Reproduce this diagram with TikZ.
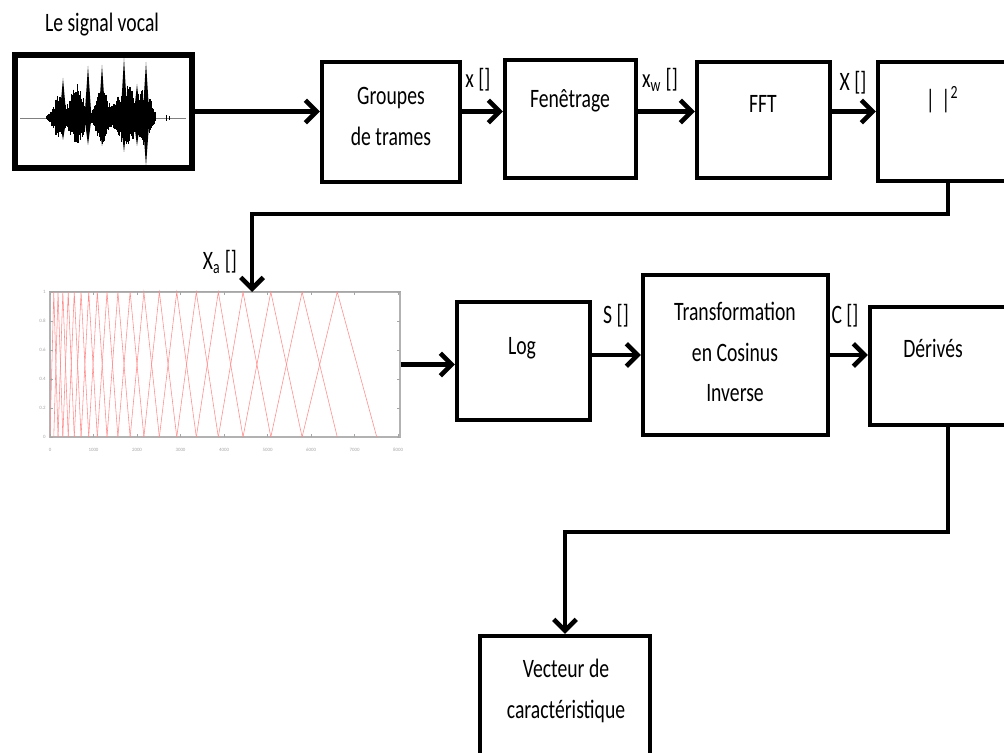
\documentclass[tikz,border=0pt]{standalone}
\usepackage{fontspec}
\setmainfont{Carlito}
\usepackage{graphicx}
\usetikzlibrary{arrows.meta,positioning}
\tikzstyle{bloc} = [rectangle, draw=black, line width=3pt, fill=white, inner sep=0pt]
\tikzstyle{fleche} = [line width=3.3pt, -{Straight Barb[length=8pt,width=16pt]}]
\tikzstyle{txt} = [inner sep=0pt, align=center, font=\fontsize{14}{29}\selectfont]
\tikzstyle{lbl} = [inner sep=0pt, font=\fontsize{14}{16}\selectfont]
\tikzstyle{tick} = [inner sep=0pt, text=gray!70, font=\fontsize{3.5}{4}\selectfont]
\newcommand{\haut}[1]{\scalebox{1}[1.35]{#1}}

\begin{document}
\begin{tikzpicture}[x=0.025cm, y=-0.025cm,
  declare function={bump(\x,\c,\w)=exp(-min(9,((\x-\c)/\w)*((\x-\c)/\w)));}]
\clip (0,0) rectangle (1004,753);
% Signal d'entree
\node[lbl] (titre) at (102,25) {\haut{Le signal vocal}};
\node (sig) [bloc, line width=3.8pt, minimum width=4.425cm, minimum height=2.825cm] at (103.5,111.5) {};
\draw[gray, line width=0.5pt] (20,118) -- (186,118);
\pgfmathsetseed{42}
\foreach \i in {0,...,240}{
  \pgfmathsetmacro{\wx}{47+\i*0.45}
  \pgfmathsetmacro{\env}{22*bump(\wx,58,6)+32*bump(\wx,77,9)+30*bump(\wx,102,7)+34*bump(\wx,126,11)+30*bump(\wx,145,7)+2}
  \pgfmathsetmacro{\wt}{118-\env*(0.5+0.5*rnd)}
  \pgfmathsetmacro{\wb}{118+0.8*\env*(0.5+0.5*rnd)}
  \draw[line width=0.8pt] (\wx,\wt) -- (\wx,\wb);
}
\foreach \sx/\st/\sb in {63/78/140, 88/66/145, 102/65/146, 124/58/152, 137/84/146, 146/62/166}
  \fill (\sx-3.5,118) -- (\sx,\st) -- (\sx+3.5,118) -- (\sx,\sb) -- cycle;
\draw[line width=0.6pt] (166,115) -- (166,121) (169,116) -- (169,120);

% Premiere ligne
\node (grp) [bloc, minimum width=3.45cm, minimum height=3cm] at (391,122) {};
\node (grptxt) [txt] at (391,116.5) {\haut{Groupes}\\\haut{de trames}};
\node (fen) [bloc, minimum width=3.275cm, minimum height=2.95cm] at (570.5,119) {};
\node (fentxt) [txt] at (570,101) {\haut{Fenêtrage}};
\node (fft) [bloc, minimum width=3.325cm, minimum height=2.9cm] at (763.5,120) {};
\node (ffttxt) [txt] at (763,104) {\haut{FFT}};
\node (mod) [bloc, minimum width=3.5cm, minimum height=2.975cm] at (948,121.5) {};
\node (modtxt) [txt] at (942,100) {\haut{|\,\,|\textsuperscript{2}}};

\node (lx) [lbl] at (478,80) {\haut{x []}};
\node (lxw) [lbl] at (660,80) {\haut{x$_{\mathrm{w}}$ []}};
\node (lX) [lbl] at (853,83) {\haut{X []}};

\draw[fleche] (sig.east) -- (sig.east -| grp.west);
\draw[fleche] (grp.east |- sig.east) -- (fen.west |- sig.east);
\draw[fleche] (fen.east |- sig.east) -- (fft.west |- sig.east);
\draw[fleche] (fft.east |- sig.east) -- (mod.west |- sig.east);

% Banc de filtres
\node (fb) [rectangle, draw=gray!60, line width=0.8pt, minimum width=8.75cm, minimum height=3.625cm, inner sep=0pt] at (225,364.5) {};
\draw[gray!70, line width=1.2pt] (fb.north west) -- (fb.north east);
\foreach \k in {1,...,20}{
  \pgfmathsetmacro{\fl}{50+0.0435*700*(pow(10,(\k-1)*132.14/2595)-1)}
  \pgfmathsetmacro{\fc}{50+0.0435*700*(pow(10,\k*132.14/2595)-1)}
  \pgfmathsetmacro{\fr}{50+0.0435*700*(pow(10,(\k+1)*132.14/2595)-1)}
  \draw[red!45, line width=0.4pt] (\fl,437) -- (\fc,292) -- (\fr,437);
}
\foreach \i in {0,...,8}{
  \draw[gray!70, line width=0.4pt] (50+\i*43.5,437) -- ++(0,-3) (50+\i*43.5,292) -- ++(0,3);
  \pgfmathtruncatemacro{\hz}{\i*1000}
  \node[tick] at (50+\i*43.5,450) {\hz};
}
\foreach \j/\v in {0/0, 1/0.2, 2/0.4, 3/0.6, 4/0.8, 5/1}{
  \draw[gray!70, line width=0.4pt] (50,437-\j*29) -- ++(3,0) (400,437-\j*29) -- ++(-3,0);
  \node[tick, anchor=east] at (46,437-\j*29) {\v};
}
\coordinate (fbin) at (252,292);
\node (lXa) [lbl] at (220,262) {\haut{X$_{\mathrm{a}}$ []}};
\draw[fleche] (mod.south) -- ++(0,31) -| (fbin);

% Deuxieme ligne
\node (log) [bloc, minimum width=3.325cm, minimum height=2.95cm] at (523.5,361) {};
\node (logtxt) [txt] at (522,348) {\haut{Log}};
\node (dct) [bloc, minimum width=4.625cm, minimum height=4cm] at (735.5,355) {};
\node (dcttxt) [txt] at (735,352) {\haut{Transformation}\\\haut{en Cosinus}\\\haut{Inverse}};
\node (der) [bloc, minimum width=3.9cm, minimum height=2.95cm] at (948,366) {};
\node (dertxt) [txt] at (933,348) {\haut{Dérivés}};
\node (lS) [lbl] at (616,316) {\haut{S []}};
\node (lC) [lbl] at (845,316) {\haut{C []}};

\draw[fleche] (fb.east) -- (fb.east -| log.west);
\draw[fleche] (log.east |- dct.center) -- (dct.west);
\draw[fleche] (dct.east) -- (dct.east -| der.west);

% Sortie
\node (vec) [bloc, minimum width=4.25cm, minimum height=3.35cm] at (565,703) {};
\node (vectxt) [txt] at (566,691) {\haut{Vecteur de}\\\haut{caractéristique}};
\draw[fleche] (der.south) -- ++(0,105) -| (vec.north);
\end{tikzpicture}
\end{document}
